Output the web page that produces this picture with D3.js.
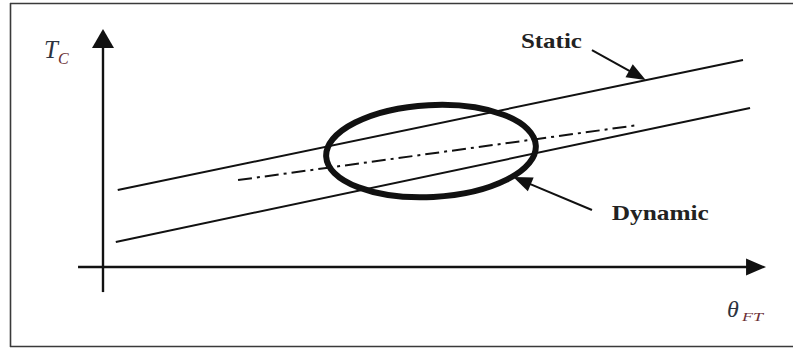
<!DOCTYPE html>
<html>
<head>
<meta charset="utf-8">
<script src="https://cdn.jsdelivr.net/npm/d3@7"></script>
<style>
  html, body { margin: 0; padding: 0; background: #fff; }
  svg { display: block; }
</style>
</head>
<body>
<svg id="chart" width="793" height="349"></svg>
<script>
// Relation between θ_FT and T_C: static band bounds, mean line, dynamic region
const staticUpper = [ { x: 0.23, y: 3.50 }, { x: 10.0, y: 9.41 } ];
const staticLower = [ { x: 0.20, y: 1.14 }, { x: 10.11, y: 7.23 } ];
const meanLine    = [ { x: 2.11, y: 3.95 }, { x: 8.36, y: 6.45 } ];
const dynamicRegion = { cx: 5.125, cy: 5.27, rx: 1.64, ry: 2.09, tilt: -3 };

// Axis extents (data units) and labels
const xAxisSpan = [-0.39, 10.36];
const yAxisSpan = [-1.14, 10.82];
const annotations = [
  { text: "Static",  from: { x: 7.64, y: 9.86 }, to: { x: 8.48, y: 8.50 }, tx: 6.53, ty: 9.95, len: 61 },
  { text: "Dynamic", from: { x: 7.64, y: 2.59 }, to: { x: 6.41, y: 4.09 }, tx: 7.95, ty: 2.14, len: 97 }
];

const svg = d3.select("#chart");
const x = d3.scaleLinear().domain([0, 10]).range([103, 743]);
const y = d3.scaleLinear().domain([0, 10]).range([267, 47]);

// Outer frame (top and left edges plus bottom rule)
const frame = svg.append("g").attr("stroke", "#3a3a3a").attr("stroke-width", 1.6);
frame.append("line").attr("x1", 10).attr("x2", 793).attr("y1", 3.5).attr("y2", 3.5);
frame.append("line").attr("x1", 10.5).attr("x2", 10.5).attr("y1", 3).attr("y2", 347);
frame.append("line").attr("x1", 10).attr("x2", 793).attr("y1", 346.5).attr("y2", 346.5);

// Filled arrowhead at point `tip`, pointing away from `base`
function arrowHead(g, base, tip, length, halfWidth) {
  const dx = tip[0] - base[0], dy = tip[1] - base[1];
  const d = Math.hypot(dx, dy), ux = dx / d, uy = dy / d;
  const bx = tip[0] - ux * length, by = tip[1] - uy * length;
  const pts = [
    tip,
    [bx - uy * halfWidth, by + ux * halfWidth],
    [bx + uy * halfWidth, by - ux * halfWidth]
  ];
  g.append("path").attr("d", "M" + pts.map(p => p.join(",")).join("L") + "Z").attr("fill", "#111");
}

// Axes with arrows
const axes = svg.append("g").attr("stroke", "#111").attr("stroke-width", 2.4);
axes.append("line")
  .attr("x1", x(xAxisSpan[0])).attr("x2", x(xAxisSpan[1]) - 12)
  .attr("y1", y(0)).attr("y2", y(0));
arrowHead(svg, [x(xAxisSpan[0]), y(0)], [x(xAxisSpan[1]), y(0)], 20, 8.5);
axes.append("line")
  .attr("x1", x(0)).attr("x2", x(0))
  .attr("y1", y(yAxisSpan[0])).attr("y2", y(yAxisSpan[1]) + 12);
arrowHead(svg, [x(0), y(yAxisSpan[0])], [x(0), y(yAxisSpan[1])], 19, 11);

// Static bounds and mean line
const line = d3.line().x(d => x(d.x)).y(d => y(d.y));
svg.append("path").datum(staticUpper).attr("d", line)
  .attr("fill", "none").attr("stroke", "#111").attr("stroke-width", 2);
svg.append("path").datum(staticLower).attr("d", line)
  .attr("fill", "none").attr("stroke", "#111").attr("stroke-width", 2);
svg.append("path").datum(meanLine).attr("d", line)
  .attr("fill", "none").attr("stroke", "#111").attr("stroke-width", 2)
  .attr("stroke-dasharray", "14,5,3,5");

// Dynamic region
const ecx = x(dynamicRegion.cx), ecy = y(dynamicRegion.cy);
svg.append("ellipse")
  .attr("cx", ecx).attr("cy", ecy)
  .attr("rx", x(dynamicRegion.rx) - x(0))
  .attr("ry", y(0) - y(dynamicRegion.ry))
  .attr("transform", `rotate(${dynamicRegion.tilt},${ecx},${ecy})`)
  .attr("fill", "none").attr("stroke", "#111").attr("stroke-width", 6);

// Callouts
annotations.forEach(a => {
  const p0 = [x(a.from.x), y(a.from.y)], p1 = [x(a.to.x), y(a.to.y)];
  const dx = p1[0] - p0[0], dy = p1[1] - p0[1], d = Math.hypot(dx, dy);
  svg.append("line")
    .attr("x1", p0[0]).attr("y1", p0[1])
    .attr("x2", p1[0] - dx / d * 12).attr("y2", p1[1] - dy / d * 12)
    .attr("stroke", "#111").attr("stroke-width", 2);
  arrowHead(svg, p0, p1, 19, 7.5);
  svg.append("text")
    .attr("x", x(a.tx))
    .attr("y", y(a.ty))
    .attr("font-family", "'Liberation Serif', 'Times New Roman', serif")
    .attr("font-weight", "bold").attr("font-size", 21)
    .attr("textLength", a.len).attr("lengthAdjust", "spacingAndGlyphs")
    .attr("fill", "#222").text(a.text);
});

// Axis titles
const serif = "'Liberation Serif', 'Times New Roman', serif";
svg.append("text")
  .attr("x", 44).attr("y", 58)
  .attr("font-family", serif).attr("font-style", "italic")
  .attr("font-size", 25).attr("fill", "#2c3340").text("T");
svg.append("text")
  .attr("x", 58).attr("y", 64)
  .attr("font-family", serif).attr("font-style", "italic")
  .attr("font-size", 16).attr("fill", "#6b2f35").text("C");

svg.append("text")
  .attr("x", 727).attr("y", 317)
  .attr("font-family", serif).attr("font-style", "italic")
  .attr("font-size", 24).attr("fill", "#2c3340").text("θ");
svg.append("text")
  .attr("x", 742).attr("y", 321)
  .attr("font-family", serif).attr("font-style", "italic")
  .attr("font-size", 12).attr("fill", "#6b2f35")
  .attr("textLength", 21).attr("lengthAdjust", "spacingAndGlyphs").text("FT");
</script>
</body>
</html>
